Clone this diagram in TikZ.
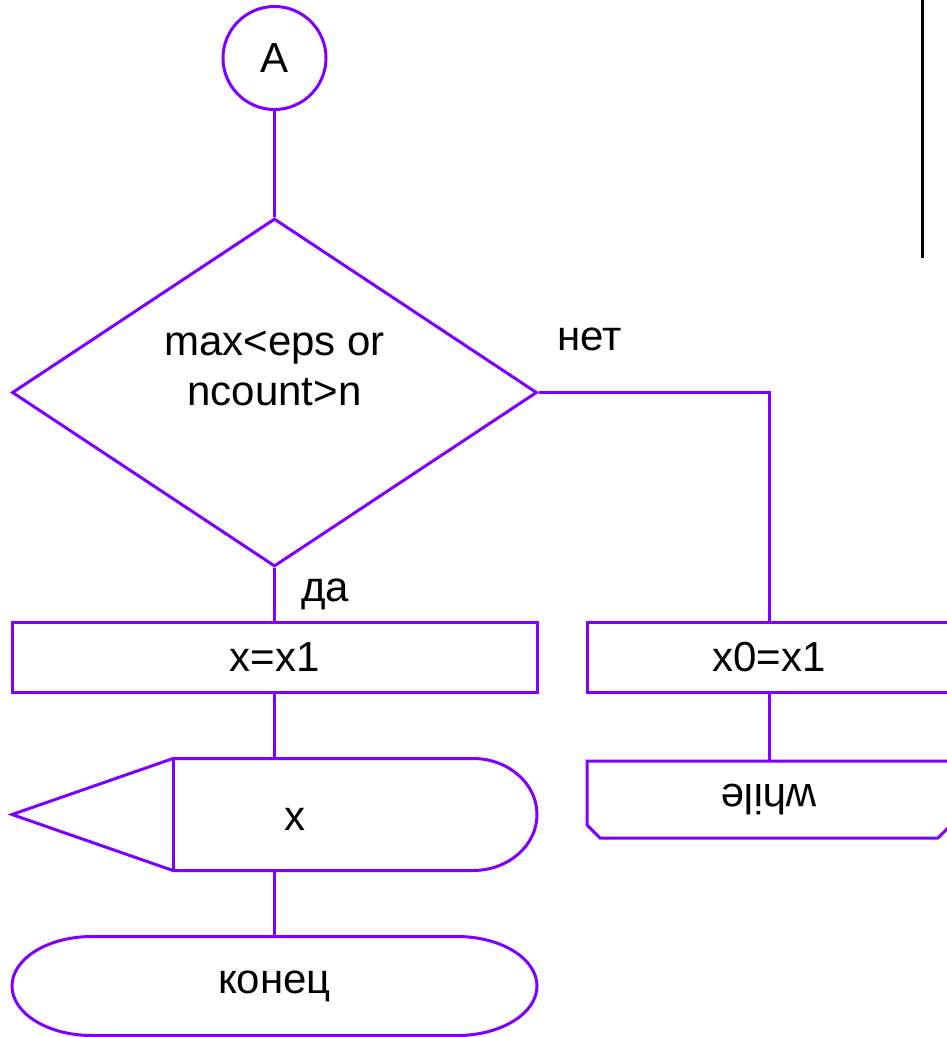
\documentclass[tikz,border=0pt]{standalone}
\usepackage{fontspec}
\setmainfont{Liberation Sans}
\usepackage{graphicx}
\usetikzlibrary{calc,positioning,shapes}

\definecolor{flowline}{RGB}{128,0,255}

\begin{document}
\begin{tikzpicture}[line width=0.06cm, font=\fontsize{23.9}{28.45}\selectfont]
	\tikzstyle{block} = [draw=flowline, rectangle, minimum height=1.4cm, inner sep=0pt]
	\tikzstyle{decision} = [draw=flowline, diamond, minimum width=10.5cm, minimum height=6.96cm, inner sep=0pt]
	\tikzstyle{joint} = [draw=flowline, circle, minimum size=2.06cm, inner sep=0pt]
	\tikzstyle{frame} = [rectangle, inner sep=0pt, outer sep=0pt]
	\tikzstyle{line} = [draw=flowline]
	
	\useasboundingbox (0,0) rectangle (18.94,-20.74);
	
	\node [joint] (start) at (5.49,-1.16) {A};
	\node [decision, below = 2.12cm of start] (cond) {};
	\node [align=center, inner sep=0pt] (condtext) at ([yshift=0.48cm]cond.center) {max<eps or\\ncount>n};
	
	\node [block, minimum width=10.5cm, below = 1.06cm of cond] (xassign) {x=x1};
	\node [block, minimum width=7.28cm, right = 0.94cm of xassign] (xzero) {x0=x1};
	
	% output box: pointed left end, rounded right end
	\node [frame, minimum width=10.5cm, minimum height=2.24cm, below = 1.29cm of xassign, label={[xshift=0.41cm, yshift=-0.09cm]center:x}] (outbox) {};
	\draw [line] (outbox.west) -- ([xshift=3.22cm]outbox.north west) -- ([xshift=-1.28cm]outbox.north east) arc [start angle=90, end angle=-90, x radius=1.28cm, y radius=1.12cm] -- ([xshift=3.22cm]outbox.south west) -- cycle;
	\draw [line] ([xshift=3.22cm]outbox.north west) -- ([xshift=3.22cm]outbox.south west);
	
	% end of program
	\node [frame, minimum width=10.5cm, minimum height=1.98cm, below = 1.32cm of outbox] (finish) {конец};
	\draw [line] ([xshift=1.6cm]finish.north west) -- ([xshift=-1.6cm]finish.north east) arc [start angle=90, end angle=-90, x radius=1.6cm, y radius=0.99cm] -- ([xshift=1.6cm]finish.south west) arc [start angle=270, end angle=90, x radius=1.6cm, y radius=0.99cm] -- cycle;
	
	% loop end, cut corners at the bottom
	\node [frame, minimum width=7.28cm, minimum height=1.54cm, below = 1.34cm of xzero] (loopend) {\rotatebox{180}{while}};
	\draw [line] (loopend.north west) -- (loopend.north east) -- ([yshift=0.26cm]loopend.south east) -- ([xshift=-0.26cm]loopend.south east) -- ([xshift=0.26cm]loopend.south west) -- ([yshift=0.26cm]loopend.south west) -- cycle;
	
	\draw [line] (start) -- (cond);
	\draw [line] (cond.east) -| node [pos=0.11, above=0.8cm, inner sep=0pt] {нет} (xzero.north);
	\draw [line] (cond) -- node [right=0.5cm, inner sep=0pt] {да} (xassign);
	\draw [line] (xassign) -- (outbox);
	\draw [line] (outbox) -- (finish);
	\draw [line] (xzero) -- (loopend);
	
	\draw [line width=0.06cm] (18.44,0) -- (18.44,-5.16);
	
\end{tikzpicture}
\end{document}
